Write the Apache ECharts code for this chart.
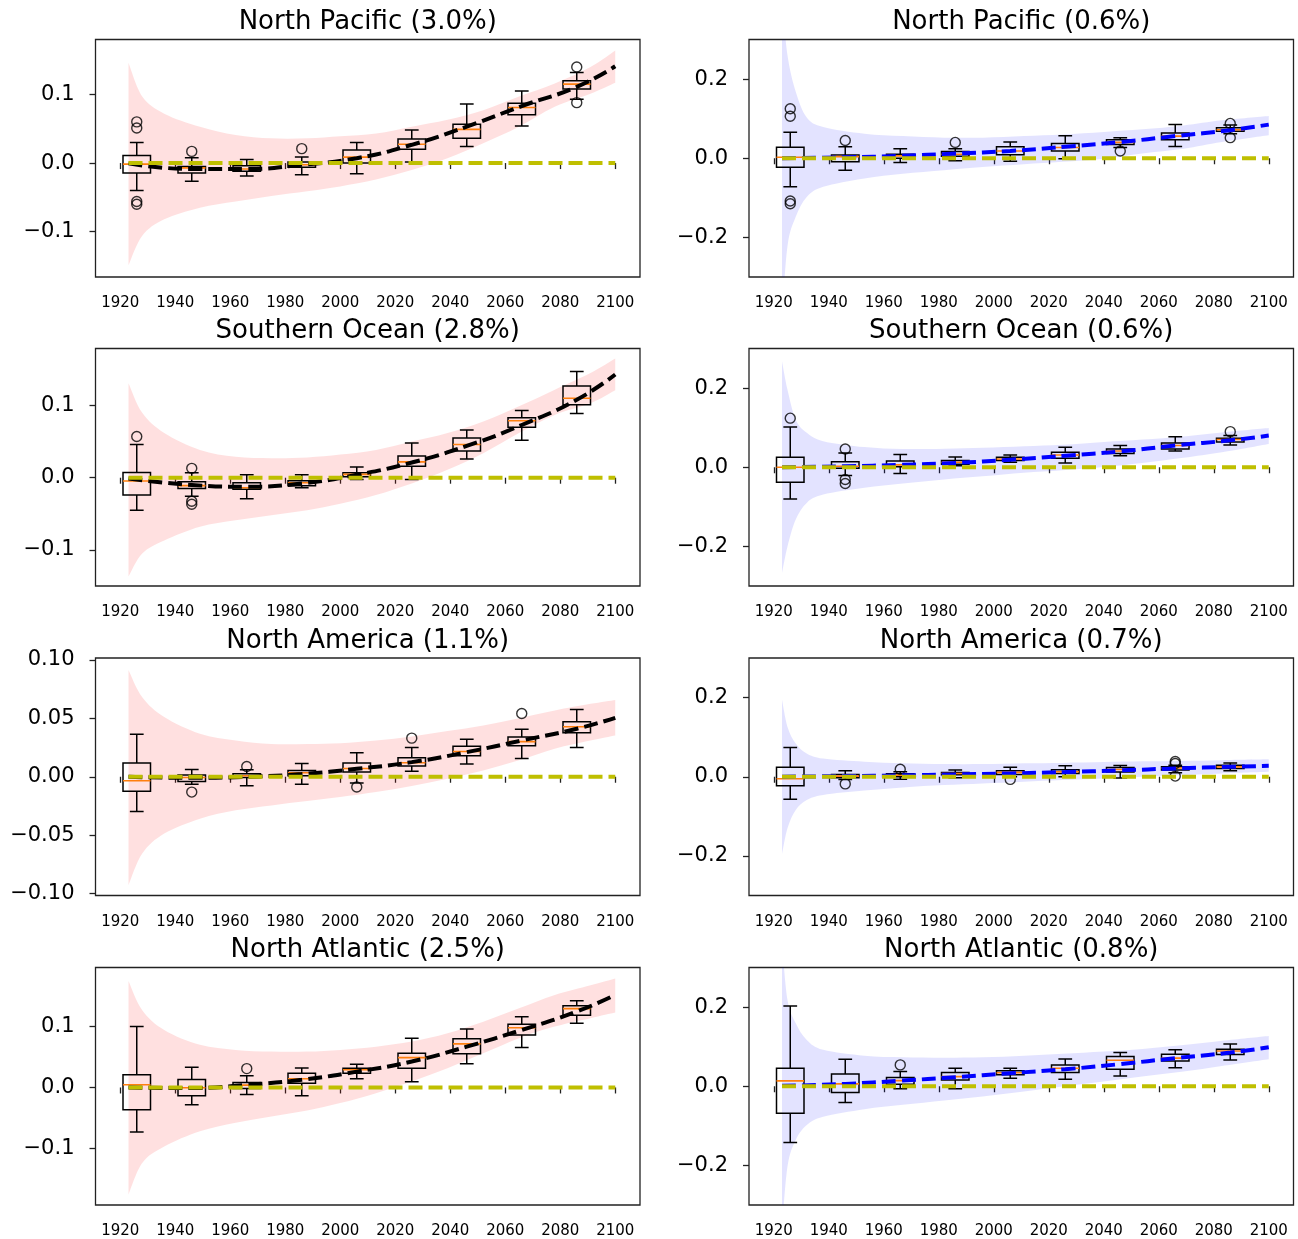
<!DOCTYPE html>
<html><head><meta charset="utf-8">
<script src="https://cdn.jsdelivr.net/npm/echarts@6/dist/echarts.min.js"></script>
<style>html,body{margin:0;padding:0;background:#fff}#c{width:1298px;height:1239px}</style>
</head><body><div id="c"></div>
<script>
// ---------------- DATA ----------------
const titles = ["North Pacific (3.0%)", "North Pacific (0.6%)", "Southern Ocean (2.8%)", "Southern Ocean (0.6%)",
  "North America (1.1%)", "North America (0.7%)", "North Atlantic (2.5%)", "North Atlantic (0.8%)"];
const xTicks = [1920, 1940, 1960, 1980, 2000, 2020, 2040, 2060, 2080, 2100];
const yTicksLeft = [-0.1, 0, 0.1];
const yTicksNA = [-0.10, -0.05, 0, 0.05, 0.10];
const yTicksRight = [-0.2, 0, 0.2];
const boxYears = [1926, 1946, 1966, 1986, 2006, 2026, 2046, 2066, 2086];
const trendYears = [1923, 1946, 1966, 1986, 2006, 2026, 2046, 2066, 2086, 2100];
const zeroYears = [1923, 2100];
const envYearsLeft = [1923, 1928, 1936, 1949, 1962, 1975, 1988, 2000, 2013, 2026, 2039, 2052, 2065, 2078, 2091, 2100];
const envYearsRight = [1923, 1925, 1928, 1932, 1938, 1953, 1967, 1982, 1996, 2011, 2025, 2040, 2054, 2069, 2083, 2100];

// box stats: [whisker low, q1, median, q3, whisker high]
const NP_L_box = [[-0.040,-0.0145,-0.0015,0.011,0.030],[-0.0266,-0.0145,-0.007,-0.005,0.0077],[-0.019,-0.012,-0.0087,-0.004,0.005],
  [-0.017,-0.006,-0.0024,0.0015,0.009],[-0.0155,0.0,0.0087,0.019,0.030],[0.0015,0.020,0.0275,0.035,0.048],
  [0.024,0.036,0.049,0.0565,0.086],[0.054,0.0705,0.081,0.087,0.105],[0.093,0.108,0.115,0.120,0.132]];
const NP_L_out = [[1926,0.060],[1926,0.051],[1926,-0.056],[1926,-0.060],[1946,0.017],[1986,0.021],[2086,0.140],[2086,0.088]];
const NP_L_trend = [-0.0005,-0.0087,-0.0087,-0.0025,0.007,0.0266,0.053,0.083,0.111,0.141];
const NP_L_up = [0.146,0.097,0.072,0.053,0.041,0.036,0.036,0.039,0.043,0.053,0.063,0.077,0.097,0.116,0.140,0.164];
const NP_L_lo = [-0.149,-0.106,-0.082,-0.065,-0.056,-0.048,-0.041,-0.034,-0.024,-0.010,0.007,0.029,0.053,0.082,0.101,0.117];

const NP_R_box = [[-0.072,-0.023,0.0025,0.028,0.066],[-0.030,-0.009,0.0042,0.0084,0.029],[-0.011,0.0,0.006,0.010,0.024],
  [-0.006,0.005,0.010,0.017,0.024],[-0.0076,0.009,0.0185,0.029,0.041],[-0.001,0.0185,0.027,0.037,0.057],
  [0.027,0.035,0.040,0.047,0.052],[0.030,0.047,0.056,0.064,0.085],[0.062,0.068,0.072,0.077,0.084]];
const NP_R_out = [[1926,0.125],[1926,0.106],[1926,-0.108],[1926,-0.115],[1946,0.045],[1986,0.040],[2046,0.0185],[2086,0.088],[2086,0.052]];
const NP_R_trend = [0.0,0.0025,0.006,0.012,0.0185,0.029,0.041,0.056,0.071,0.085];
const NP_R_up = [0.40,0.26,0.168,0.103,0.079,0.062,0.056,0.052,0.052,0.056,0.060,0.0665,0.073,0.083,0.096,0.107];
const NP_R_lo = [-0.40,-0.222,-0.148,-0.098,-0.072,-0.051,-0.039,-0.030,-0.022,-0.015,-0.009,-0.001,0.012,0.024,0.041,0.058];

const SO_L_box = [[-0.045,-0.024,-0.0046,0.0074,0.046],[-0.0255,-0.015,-0.011,-0.0056,0.007],[-0.029,-0.016,-0.014,-0.007,0.004],
  [-0.014,-0.011,-0.007,-0.0042,0.004],[-0.0023,0.0014,0.0046,0.007,0.015],[-0.0023,0.016,0.022,0.030,0.048],
  [0.026,0.037,0.046,0.055,0.066],[0.052,0.070,0.079,0.083,0.093],[0.089,0.101,0.110,0.127,0.147]];
const SO_L_out = [[1926,0.057],[1946,0.013],[1946,-0.0325],[1946,-0.0367]];
const SO_L_trend = [-0.001,-0.010,-0.0125,-0.008,0.004,0.021,0.044,0.073,0.108,0.143];
const SO_L_up = [0.131,0.090,0.062,0.0385,0.029,0.027,0.028,0.032,0.0385,0.050,0.062,0.078,0.099,0.122,0.145,0.165];
const SO_L_lo = [-0.137,-0.105,-0.087,-0.068,-0.059,-0.052,-0.045,-0.036,-0.024,-0.008,0.011,0.034,0.062,0.087,0.103,0.121];

const SO_R_box = [[-0.080,-0.038,0.0,0.025,0.102],[-0.021,-0.0025,0.0025,0.014,0.036],[-0.016,0.001,0.006,0.016,0.032],
  [0.004,0.0076,0.0126,0.017,0.026],[0.0126,0.017,0.021,0.025,0.031],[0.011,0.023,0.031,0.038,0.0505],
  [0.029,0.035,0.041,0.046,0.055],[0.041,0.046,0.055,0.061,0.077],[0.056,0.064,0.070,0.073,0.080]];
const SO_R_out = [[1926,0.124],[1946,0.046],[1946,-0.031],[1946,-0.041],[2086,0.090]];
const SO_R_trend = [0.0,0.0025,0.006,0.011,0.019,0.029,0.040,0.055,0.068,0.080];
const SO_R_up = [0.268,0.196,0.120,0.087,0.066,0.051,0.046,0.047,0.049,0.053,0.057,0.064,0.070,0.078,0.088,0.099];
const SO_R_lo = [-0.267,-0.20,-0.132,-0.090,-0.069,-0.052,-0.041,-0.031,-0.023,-0.014,-0.0076,0.0008,0.011,0.024,0.038,0.059];

const NA_L_box = [[-0.0296,-0.0125,-0.0034,0.0117,0.0364],[-0.0065,-0.004,-0.0006,0.0014,0.0063],[-0.0077,-0.0006,0.0009,0.0026,0.006],
  [-0.0065,0.0009,0.0034,0.0054,0.0114],[-0.0054,0.004,0.0071,0.0117,0.0205],[0.0046,0.0091,0.012,0.0162,0.025],
  [0.0108,0.018,0.0216,0.026,0.032],[0.0156,0.0265,0.030,0.034,0.0407],[0.025,0.0376,0.0427,0.047,0.0575]];
const NA_L_out = [[1946,-0.0131],[1966,0.0088],[2006,-0.0088],[2026,0.033],[2066,0.054]];
const NA_L_trend = [0.0,-0.0009,0.0,0.0023,0.0068,0.0125,0.021,0.031,0.041,0.0504];
const NA_L_up = [0.0913,0.068,0.051,0.0367,0.031,0.028,0.028,0.0287,0.031,0.0344,0.039,0.0438,0.050,0.0566,0.0623,0.0657];
const NA_L_lo = [-0.0927,-0.0657,-0.0486,-0.0358,-0.0287,-0.0245,-0.0208,-0.0174,-0.0131,-0.008,-0.0017,0.0054,0.014,0.024,0.031,0.0353];

const NA_R_box = [[-0.057,-0.023,-0.005,0.024,0.074],[-0.0067,-0.0025,0.0017,0.006,0.015],[-0.006,0.0,0.0042,0.0076,0.0126],
  [-0.0025,0.005,0.0084,0.011,0.017],[0.0,0.006,0.011,0.015,0.024],[0.0,0.0084,0.0126,0.018,0.028],
  [-0.0034,0.0118,0.0185,0.0235,0.0286],[0.010,0.017,0.022,0.025,0.029],[0.015,0.021,0.025,0.029,0.035]];
const NA_R_out = [[1946,-0.018],[1966,0.019],[2006,-0.0067],[2066,0.0387],[2066,0.0336],[2066,0.0017]];
const NA_R_trend = [0.0,0.0017,0.0034,0.006,0.0084,0.0118,0.016,0.021,0.025,0.0277];
const NA_R_up = [0.195,0.126,0.084,0.059,0.046,0.038,0.034,0.032,0.032,0.034,0.035,0.037,0.039,0.040,0.042,0.044];
const NA_R_lo = [-0.195,-0.130,-0.084,-0.059,-0.046,-0.035,-0.027,-0.021,-0.017,-0.0126,-0.0084,-0.0042,0.0,0.0042,0.0084,0.0126];

const NATL_L_box = [[-0.0732,-0.0366,0.0044,0.0208,0.100],[-0.0284,-0.0137,-0.0005,0.0131,0.0333],[-0.0115,-0.0016,0.0038,0.0082,0.0191],
  [-0.0137,0.0071,0.0142,0.0235,0.032],[0.0142,0.0235,0.029,0.0317,0.038],[0.0093,0.0317,0.049,0.0563,0.081],
  [0.0388,0.0552,0.0716,0.080,0.096],[0.0656,0.0863,0.098,0.104,0.116],[0.1055,0.1186,0.1295,0.134,0.1426]];
const NATL_L_out = [[1966,0.031]];
const NATL_L_trend = [0.0,-0.001,0.0044,0.0126,0.026,0.0426,0.067,0.0945,0.1246,0.152];
const NATL_L_up = [0.175,0.127,0.0945,0.070,0.0617,0.059,0.059,0.0617,0.067,0.0754,0.089,0.108,0.130,0.152,0.168,0.179];
const NATL_L_lo = [-0.176,-0.124,-0.097,-0.072,-0.058,-0.0475,-0.0377,-0.0257,-0.0093,0.0098,0.0317,0.056,0.081,0.100,0.1137,0.123];

const NATL_R_box = [[-0.142,-0.068,0.0135,0.0455,0.203],[-0.041,-0.016,0.006,0.031,0.068],[-0.006,0.005,0.0143,0.0219,0.037],
  [-0.006,0.016,0.0244,0.0345,0.0455],[0.020,0.029,0.034,0.039,0.0455],[0.0177,0.035,0.0455,0.054,0.069],
  [0.026,0.043,0.0657,0.075,0.085],[0.047,0.064,0.071,0.081,0.092],[0.0665,0.080,0.089,0.0935,0.107]];
const NATL_R_out = [[1966,0.054]];
const NATL_R_trend = [0.001,0.006,0.014,0.023,0.033,0.043,0.056,0.071,0.085,0.0985];
const NATL_R_up = [0.36,0.218,0.159,0.117,0.092,0.077,0.073,0.072,0.073,0.077,0.082,0.0876,0.094,0.104,0.115,0.127];
const NATL_R_lo = [-0.36,-0.203,-0.136,-0.098,-0.077,-0.058,-0.047,-0.036,-0.026,-0.0135,-0.0008,0.0118,0.0244,0.037,0.051,0.068];

// ---------------- LAYOUT / STYLE ----------------
const FONT = 'DejaVu Sans';
const GRID_LEFT = [95.5, 749];
const GRID_TOP = [39.5, 348.5, 658, 967.5];
const GRID_W = 544.5, GRID_H = 237.5;
const BOX_W_YEARS = 10;
const RED_FILL = 'rgba(255,0,0,0.12)';
const BLUE_FILL = 'rgba(0,0,255,0.11)';

const panels = [
  {box: NP_L_box, out: NP_L_out, trend: NP_L_trend, up: NP_L_up, lo: NP_L_lo, yr: [-0.166, 0.180], ticks: yTicksLeft, dec: 1},
  {box: NP_R_box, out: NP_R_out, trend: NP_R_trend, up: NP_R_up, lo: NP_R_lo, yr: [-0.3, 0.3], ticks: yTicksRight, dec: 1},
  {box: SO_L_box, out: SO_L_out, trend: SO_L_trend, up: SO_L_up, lo: SO_L_lo, yr: [-0.150, 0.179], ticks: yTicksLeft, dec: 1},
  {box: SO_R_box, out: SO_R_out, trend: SO_R_trend, up: SO_R_up, lo: SO_R_lo, yr: [-0.3, 0.3], ticks: yTicksRight, dec: 1},
  {box: NA_L_box, out: NA_L_out, trend: NA_L_trend, up: NA_L_up, lo: NA_L_lo, yr: [-0.1015, 0.1015], ticks: yTicksNA, dec: 2},
  {box: NA_R_box, out: NA_R_out, trend: NA_R_trend, up: NA_R_up, lo: NA_R_lo, yr: [-0.3, 0.3], ticks: yTicksRight, dec: 1},
  {box: NATL_L_box, out: NATL_L_out, trend: NATL_L_trend, up: NATL_L_up, lo: NATL_L_lo, yr: [-0.193, 0.197], ticks: yTicksLeft, dec: 1},
  {box: NATL_R_box, out: NATL_R_out, trend: NATL_R_trend, up: NATL_R_up, lo: NATL_R_lo, yr: [-0.3, 0.3], ticks: yTicksRight, dec: 1}
];

function fmt(dec) { return v => (v < 0 ? '\u2212' : '') + Math.abs(v).toFixed(dec); }

// Catmull-Rom path through pixel points given by the axes
function curve(P) {
  let s = '';
  for (let i = 0; i < P.length - 1; i++) {
    const p0 = P[Math.max(i - 1, 0)], p1 = P[i], p2 = P[i + 1], p3 = P[Math.min(i + 2, P.length - 1)];
    const c1x = p1[0] + (p2[0] - p0[0]) / 6, c1y = p1[1] + (p2[1] - p0[1]) / 6;
    const c2x = p2[0] - (p3[0] - p1[0]) / 6, c2y = p2[1] - (p3[1] - p1[1]) / 6;
    s += ' C' + c1x + ' ' + c1y + ' ' + c2x + ' ' + c2y + ' ' + p2[0] + ' ' + p2[1];
  }
  return s;
}
function renderEnv(fill) {
  return function (params, api) {
    if (params.dataIndexInside !== 0) return null;
    const n = params.dataInsideLength;
    const U = [], L = [];
    for (let k = 0; k < n; k++) {
      const x = api.value(0, k);
      U.push(api.coord([x, api.value(1, k)]));
      L.push(api.coord([x, api.value(2, k)]));
    }
    L.reverse();
    const d = 'M' + U[0][0] + ' ' + U[0][1] + curve(U) + ' L' + L[0][0] + ' ' + L[0][1] + curve(L) + ' Z';
    return {type: 'path', shape: {pathData: d}, style: {fill: fill, stroke: null}};
  };
}

function renderBox(params, api) {
  const x = api.value(0);
  const lo = api.coord([x, api.value(1)]);
  const q1 = api.coord([x, api.value(2)]);
  const md = api.coord([x, api.value(3)]);
  const q3 = api.coord([x, api.value(4)]);
  const hi = api.coord([x, api.value(5)]);
  const w = api.size([BOX_W_YEARS, 0])[0];
  const cx = lo[0];
  const st = {stroke: '#000', lineWidth: 1.5, fill: null};
  return {type: 'group', children: [
    {type: 'line', shape: {x1: cx, y1: q3[1], x2: cx, y2: hi[1]}, style: st},
    {type: 'line', shape: {x1: cx, y1: q1[1], x2: cx, y2: lo[1]}, style: st},
    {type: 'line', shape: {x1: cx - w / 4, y1: hi[1], x2: cx + w / 4, y2: hi[1]}, style: st},
    {type: 'line', shape: {x1: cx - w / 4, y1: lo[1], x2: cx + w / 4, y2: lo[1]}, style: st},
    {type: 'rect', shape: {x: cx - w / 2, y: q3[1], width: w, height: q1[1] - q3[1]}, style: {stroke: '#000', fill: 'none', lineWidth: 1.5}},
    {type: 'line', shape: {x1: cx - w / 2, y1: md[1], x2: cx + w / 2, y2: md[1]}, style: {stroke: '#ff7f0e', lineWidth: 1.6}}
  ]};
}

const grid = [], xAxis = [], yAxis = [], series = [], graphic = [];
panels.forEach((p, i) => {
  const col = i % 2, row = Math.floor(i / 2);
  const right = col === 1;
  grid.push({left: GRID_LEFT[col], top: GRID_TOP[row], width: GRID_W, height: GRID_H,
    show: true, borderColor: '#222', borderWidth: 1.3, backgroundColor: 'transparent', containLabel: false});
  xAxis.push({type: 'value', gridIndex: i, min: 1911, max: 2109,
    axisLine: {show: false}, splitLine: {show: false},
    axisTick: {show: true, length: 6, lineStyle: {color: '#222', width: 1.3}, customValues: xTicks},
    axisLabel: {customValues: xTicks, fontSize: 15, color: '#000', margin: 19, fontFamily: FONT, formatter: v => String(v)}});
  yAxis.push({type: 'value', gridIndex: i, min: p.yr[0], max: p.yr[1],
    axisLine: {show: false}, splitLine: {show: false},
    axisTick: {show: true, length: 6, lineStyle: {color: '#222', width: 1.3}, customValues: p.ticks},
    axisLabel: {customValues: p.ticks, fontSize: 21, color: '#000', margin: 21, fontFamily: FONT, formatter: fmt(p.dec)}});
  const ey = right ? envYearsRight : envYearsLeft;
  series.push({type: 'custom', xAxisIndex: i, yAxisIndex: i, renderItem: renderEnv(right ? BLUE_FILL : RED_FILL), clip: true,
    dimensions: ['x', 'up', 'lo'], encode: {x: 0, y: [1, 2]},
    data: ey.map((y, k) => [y, p.up[k], p.lo[k]]), silent: true, z: 1});
  series.push({type: 'custom', xAxisIndex: i, yAxisIndex: i, renderItem: renderBox, clip: true,
    dimensions: ['x', 'lo', 'q1', 'md', 'q3', 'hi'], encode: {x: 0, y: [1, 2, 3, 4, 5]},
    data: boxYears.map((y, k) => [y].concat(p.box[k])), silent: true, z: 3});
  series.push({type: 'scatter', xAxisIndex: i, yAxisIndex: i, data: p.out, symbol: 'circle', symbolSize: 10,
    itemStyle: {color: 'rgba(0,0,0,0)', borderColor: '#000', borderWidth: 1.4}, silent: true, z: 4});
  series.push({type: 'line', xAxisIndex: i, yAxisIndex: i, data: trendYears.map((y, k) => [y, p.trend[k]]),
    symbol: 'none', smooth: 0.5, lineStyle: {color: right ? '#0000ff' : '#000000', width: 4, type: [14, 6], cap: 'butt'},
    silent: true, z: 5});
  series.push({type: 'line', xAxisIndex: i, yAxisIndex: i, data: zeroYears.map(y => [y, 0]),
    symbol: 'none', lineStyle: {color: '#bfbf00', width: 4, type: [14, 6]}, silent: true, z: 6});
  graphic.push({type: 'text', x: GRID_LEFT[col] + GRID_W / 2, y: GRID_TOP[row] - 17, z: 10,
    style: {text: titles[i], fontSize: 26, fontFamily: FONT, fill: '#000', align: 'center', verticalAlign: 'middle'}});
});

const chart = echarts.init(document.getElementById('c'), null, {renderer: 'canvas'});
chart.setOption({animation: false, backgroundColor: '#fff', grid, xAxis, yAxis, series, graphic});
</script></body></html>
